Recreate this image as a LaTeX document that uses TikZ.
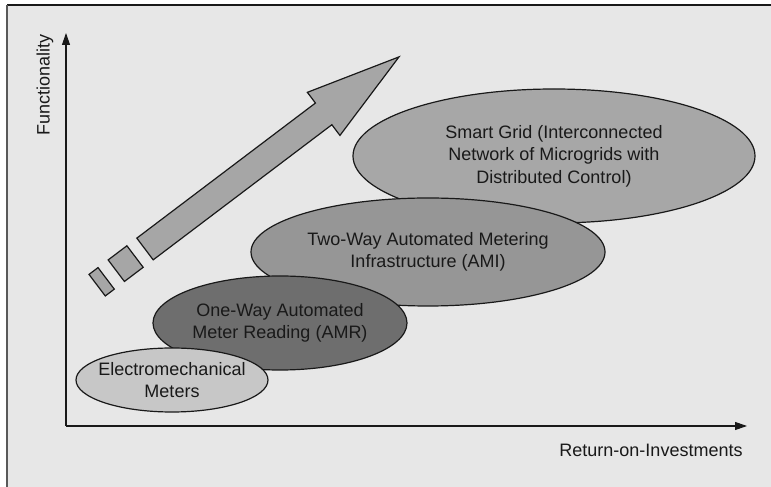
\documentclass[tikz,border=0pt]{standalone}
\usepackage{fontspec}
\setmainfont{Liberation Sans}
\usetikzlibrary{shapes.geometric,arrows.meta}
\definecolor{bg}{gray}{0.905}
\definecolor{emfill}{gray}{0.78}
\definecolor{amrfill}{gray}{0.43}
\definecolor{amifill}{gray}{0.59}
\definecolor{sgfill}{gray}{0.655}
\definecolor{arrfill}{gray}{0.65}
\definecolor{ink}{gray}{0.1}
\tikzset{
  blob/.style={ellipse, draw=ink, line width=1.2pt, inner sep=0pt, align=center,
    font=\fontsize{18}{22.5}\selectfont, text=ink},
  axisline/.style={draw=ink, line width=1.1pt, -{Triangle[length=12pt,width=8pt]}},
  axislabel/.style={font=\fontsize{18}{22}\selectfont, text=ink, inner sep=0pt},
  arrowpart/.style={fill=arrfill, draw=ink, line width=1.2pt, line join=miter}
}
\begin{document}
\begin{tikzpicture}[x=1pt,y=1pt]
\useasboundingbox (0,0) rectangle (771,487);
% scanned page background and frame
\fill[white] (0,0) rectangle (771,487);
\fill[bg] (7,0) rectangle (771,482);
\draw[ink, line width=2.2pt] (7,482) -- (771,482);
\draw[gray!70!black, line width=1.2pt] (7,0) -- (7,482);

% axes
\coordinate (O) at (66,61);
\coordinate (ytip) at (66,454);
\coordinate (xtip) at (747,61);
\draw[axisline] (O) -- (ytip);
\draw[axisline] (O) -- (xtip);
\node[axislabel, rotate=90] (ylab) at (45,402) {Functionality};
\node[axislabel] (xlab) at (651,37) {Return-on-Investments};

% big rising arrow with trailing blocks
\begin{scope}[shift={(145,238)}, rotate=37.1]
  \path[arrowpart] (0,-13.6) -- (224,-13.6) -- (224,-27) -- (318.5,0)
     -- (224,27) -- (224,13.6) -- (0,13.6) -- cycle;
  \path[arrowpart] (-36,-13.5) rectangle (-12.5,13.5);
  \path[arrowpart] (-60,-13.5) rectangle (-48.7,13.5);
\end{scope}

% stages
\node[blob, fill=sgfill, minimum width=402pt, minimum height=134pt] (sg) at (554,331)
  {Smart Grid (Interconnected\\Network of Microgrids with\\Distributed Control)};
\node[blob, fill=amifill, minimum width=354pt, minimum height=108pt] (ami) at (428,235)
  {Two-Way Automated Metering\\Infrastructure (AMI)};
\node[blob, fill=amrfill, minimum width=254pt, minimum height=94pt] (amr) at (280,164)
  {One-Way Automated\\Meter Reading (AMR)};
\node[blob, fill=emfill, inner xsep=-12pt, minimum width=192pt, minimum height=64pt] (em) at (172,107)
  {Electromechanical\\Meters};
\end{tikzpicture}
\end{document}
